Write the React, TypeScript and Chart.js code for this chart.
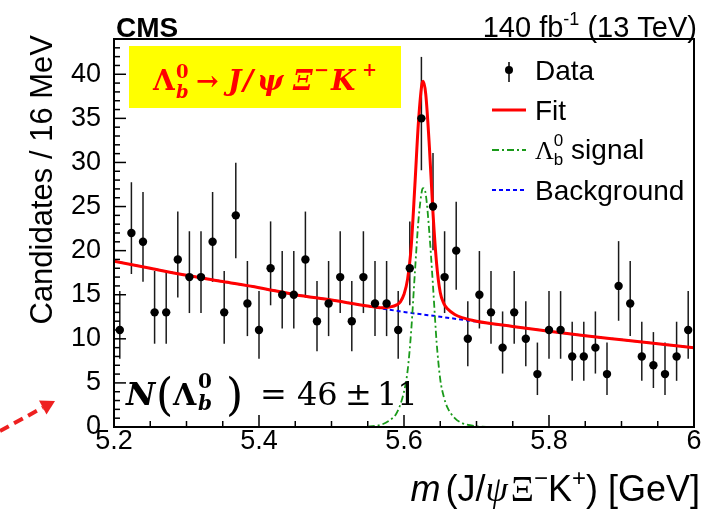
import React, { useEffect, useRef } from 'react';
import { Chart, registerables } from 'chart.js';

Chart.register(...registerables);

// ---- data ----
const binCenters = [
  5.208, 5.224, 5.24, 5.256, 5.272, 5.288, 5.304, 5.32, 5.336, 5.352,
  5.368, 5.384, 5.4, 5.416, 5.432, 5.448, 5.464, 5.48, 5.496, 5.512,
  5.528, 5.544, 5.56, 5.576, 5.592, 5.608, 5.624, 5.64, 5.656, 5.672,
  5.688, 5.704, 5.72, 5.736, 5.752, 5.768, 5.784, 5.8, 5.816, 5.832,
  5.848, 5.864, 5.88, 5.896, 5.912, 5.928, 5.944, 5.96, 5.976, 5.992,
];
const candidates = [
  11, 22, 21, 13, 13, 19, 17, 17, 21, 13,
  24, 14, 11, 18, 15, 15, 19, 12, 14, 17,
  12, 17, 14, 14, 11, 18, 35, 25, 17, 20,
  10, 15, 13, 9, 13, 10, 6, 11, 11, 8,
  8, 9, 6, 16, 14, 8, 7, 6, 8, 11,
];

const fitMass = [
  5.2, 5.25, 5.3, 5.35, 5.4, 5.45, 5.5, 5.55, 5.57, 5.58, 5.59, 5.595, 5.6, 5.605, 5.61,
  5.615, 5.62, 5.625, 5.6265, 5.63, 5.635, 5.64, 5.645, 5.65, 5.655, 5.66, 5.67, 5.68,
  5.7, 5.75, 5.8, 5.85, 5.9, 5.95, 6.0,
];
const fitValues = [
  18.8, 18.0, 17.2, 16.5, 15.8, 15.0, 14.4, 13.72, 13.52, 13.6, 13.85, 14.2, 15.05, 16.8, 20.55,
  27.4, 34.65, 39.0, 39.2, 37.75, 31.8, 24.25, 18.5, 15.25, 14.0, 13.4, 12.75, 12.4,
  12.0, 11.4, 10.85, 10.35, 9.9, 9.45, 9.0,
];

const signalMass = [
  5.55, 5.57, 5.58, 5.59, 5.6, 5.605, 5.61, 5.615, 5.62, 5.625, 5.6265, 5.63, 5.635,
  5.64, 5.645, 5.65, 5.655, 5.66, 5.67, 5.68, 5.7, 5.72,
];
const signalValues = [
  0.02, 0.3, 0.75, 1.6, 4.0, 6.4, 11.0, 17.5, 23.5, 26.9, 27.1, 26.4, 22.0,
  16.0, 9.6, 5.4, 3.4, 2.2, 1.0, 0.45, 0.08, 0,
];

const backgroundMass = [
  5.2, 5.25, 5.3, 5.35, 5.4, 5.45, 5.5, 5.55, 5.6, 5.65, 5.7, 5.75, 5.8, 5.85, 5.9, 5.95, 6.0,
];
const backgroundValues = [
  18.8, 18.0, 17.2, 16.5, 15.8, 15.0, 14.4, 13.7, 13.05, 12.5, 11.95, 11.4, 10.85, 10.35, 9.9, 9.45, 9.0,
];

const xTickValues = [5.2, 5.4, 5.6, 5.8, 6.0];
const xTickLabels = ['5.2', '5.4', '5.6', '5.8', '6'];
const yTickValues = [0, 5, 10, 15, 20, 25, 30, 35, 40];
const yTickLabels = ['0', '5', '10', '15', '20', '25', '30', '35', '40'];

const X_MIN = 5.2;
const X_MAX = 6.0;
const Y_MIN = 0;
const Y_MAX = 44;
const X_MINOR_STEP = 0.05;
const Y_MINOR_STEP = 1;

const SANS = '"Liberation Sans", Arial, Helvetica, sans-serif';
const SERIF = '"DejaVu Serif", serif';
const TIMES = '"Liberation Serif", "Times New Roman", serif';

// Garwood (Poisson) 68% interval, Wilson-Hilferty form
function poissonLow(n: number) {
  if (n <= 0) return 0;
  return n * Math.pow(1 - 1 / (9 * n) - 1 / (3 * Math.sqrt(n)), 3);
}
function poissonHigh(n: number) {
  const m = n + 1;
  return m * Math.pow(1 - 1 / (9 * m) + 1 / (3 * Math.sqrt(m)), 3);
}

type Seg = {
  t?: string; f?: string; dy?: number;
  sup?: string; supF?: string; supDy?: number;
  sub?: string; subF?: string; subDy?: number;
  pad?: number;
};

function segWidth(ctx: CanvasRenderingContext2D, s: Seg) {
  if (s.t !== undefined) {
    ctx.font = s.f as string;
    return ctx.measureText(s.t).width + (s.pad || 0);
  }
  let w = 0;
  if (s.sup) { ctx.font = s.supF as string; w = Math.max(w, ctx.measureText(s.sup).width); }
  if (s.sub) { ctx.font = s.subF as string; w = Math.max(w, ctx.measureText(s.sub).width); }
  return w + (s.pad || 0);
}

function drawSeq(ctx: CanvasRenderingContext2D, x: number, y: number, segs: Seg[], align: 'left' | 'right' = 'left') {
  const ws = segs.map((s) => segWidth(ctx, s));
  const total = ws.reduce((a, b) => a + b, 0);
  let cx = align === 'right' ? x - total : x;
  ctx.textAlign = 'left';
  ctx.textBaseline = 'alphabetic';
  segs.forEach((s, i) => {
    if (s.t !== undefined) {
      ctx.font = s.f as string;
      ctx.fillText(s.t, cx, y + (s.dy || 0));
    } else {
      if (s.sup) { ctx.font = s.supF as string; ctx.fillText(s.sup, cx, y + (s.supDy || 0)); }
      if (s.sub) { ctx.font = s.subF as string; ctx.fillText(s.sub, cx, y + (s.subDy || 0)); }
    }
    cx += ws[i];
  });
  return total;
}

function put(ctx: CanvasRenderingContext2D, text: string, x: number, y: number, font: string) {
  ctx.font = font;
  ctx.textAlign = 'left';
  ctx.textBaseline = 'alphabetic';
  ctx.fillText(text, x, y);
}

function line(ctx: CanvasRenderingContext2D, x1: number, y1: number, x2: number, y2: number) {
  ctx.beginPath();
  ctx.moveTo(x1, y1);
  ctx.lineTo(x2, y2);
  ctx.stroke();
}

const decorPlugin = {
  id: 'cmsDecor',
  beforeDatasetsDraw(chart: any) {
    const ctx: CanvasRenderingContext2D = chart.ctx;
    const xs = chart.scales.x;
    const ys = chart.scales.y;
    ctx.save();
    ctx.strokeStyle = '#1a1a1a';
    ctx.lineWidth = 1.5;
    binCenters.forEach((m, i) => {
      const n = candidates[i];
      const px = xs.getPixelForValue(m);
      line(ctx, px, ys.getPixelForValue(poissonLow(n)), px, ys.getPixelForValue(poissonHigh(n)));
    });
    ctx.restore();
  },
  afterDraw(chart: any) {
    const ctx: CanvasRenderingContext2D = chart.ctx;
    const xs = chart.scales.x;
    const ys = chart.scales.y;
    const { left, right, top, bottom } = chart.chartArea;
    ctx.save();

    // ticks (inside)
    ctx.strokeStyle = '#000';
    ctx.lineWidth = 1.5;
    ctx.setLineDash([]);
    for (let k = 0; Y_MIN + k * Y_MINOR_STEP <= Y_MAX + 1e-9; k++) {
      const v = Y_MIN + k * Y_MINOR_STEP;
      const py = ys.getPixelForValue(v);
      const major = yTickValues.some((t) => Math.abs(t - v) < 1e-9);
      line(ctx, left, py, left + (major ? 12 : 6), py);
    }
    for (let k = 0; X_MIN + k * X_MINOR_STEP <= X_MAX + 1e-9; k++) {
      const v = X_MIN + k * X_MINOR_STEP;
      const px = xs.getPixelForValue(v);
      const major = xTickValues.some((t) => Math.abs(t - v) < 1e-9);
      line(ctx, px, bottom, px, bottom - (major ? 12 : 6));
    }
    // frame
    ctx.lineWidth = 2;
    ctx.strokeRect(left, top, right - left, bottom - top);

    // header
    ctx.fillStyle = '#000';
    put(ctx, 'CMS', 116, 37, `bold 28px ${SANS}`);
    drawSeq(ctx, 697, 37, [
      { t: '140 fb', f: `29px ${SANS}` },
      { sup: '-1', supF: `18px ${SANS}`, supDy: -12 },
      { t: ' (13 TeV)', f: `29px ${SANS}` },
    ], 'right');

    // y title
    ctx.save();
    ctx.translate(52, 35);
    ctx.rotate(-Math.PI / 2);
    ctx.font = `31px ${SANS}`;
    ctx.textAlign = 'right';
    ctx.textBaseline = 'alphabetic';
    ctx.fillText('Candidates / 16 MeV', 0, 0);
    ctx.restore();

    // x title
    drawSeq(ctx, 700, 501, [
      { t: 'm', f: `italic 36px ${SANS}`, pad: 5 },
      { t: '(J/', f: `36px ${SANS}` },
      { t: 'ψ', f: `italic 36px ${TIMES}`, pad: 3 },
      { t: 'Ξ', f: `36px ${TIMES}` },
      { sup: '−', supF: `24px ${SANS}`, supDy: -15 },
      { t: 'K', f: `36px ${SANS}` },
      { sup: '+', supF: `24px ${SANS}`, supDy: -15 },
      { t: ') [GeV]', f: `36px ${SANS}` },
    ], 'right');

    // legend
    ctx.strokeStyle = '#000';
    ctx.lineWidth = 1.5;
    line(ctx, 509, 62, 509, 82);
    ctx.beginPath();
    ctx.arc(509, 70, 4, 0, Math.PI * 2);
    ctx.fill();
    ctx.strokeStyle = '#ff0000';
    ctx.lineWidth = 3;
    line(ctx, 492, 110, 526, 110);
    ctx.strokeStyle = '#1a9a1a';
    ctx.lineWidth = 1.8;
    ctx.setLineDash([7, 3, 2, 3]);
    line(ctx, 492, 150, 526, 150);
    ctx.strokeStyle = '#0000ff';
    ctx.lineWidth = 2;
    ctx.setLineDash([4, 3]);
    line(ctx, 492, 190, 526, 190);
    ctx.setLineDash([]);
    ctx.fillStyle = '#000';
    put(ctx, 'Data', 535, 80, `28px ${SANS}`);
    put(ctx, 'Fit', 535, 120, `28px ${SANS}`);
    drawSeq(ctx, 535, 159, [
      { t: 'Λ', f: `26px ${TIMES}` },
      { sup: '0', supF: `17px ${SANS}`, supDy: -13, sub: 'b', subF: `17px ${SANS}`, subDy: 6 },
      { t: ' signal', f: `28px ${SANS}` },
    ]);
    put(ctx, 'Background', 535, 200, `28px ${SANS}`);

    // yellow box
    ctx.fillStyle = '#ffff00';
    ctx.fillRect(129, 46, 272, 62);
    ctx.fillStyle = '#ff0000';
    put(ctx, 'Λ', 153, 90, `bold 28px ${SERIF}`);
    put(ctx, '0', 176, 78, `bold 18px ${SERIF}`);
    put(ctx, 'b', 176, 98, `bold italic 18px ${SERIF}`);
    put(ctx, '→', 196, 90, `bold 27px ${SERIF}`);
    put(ctx, 'J', 228, 90, `bold italic 28px ${SERIF}`);
    put(ctx, '/', 243, 90, `bold italic 28px ${SERIF}`);
    put(ctx, 'ψ', 257, 90, `bold italic 28px ${SERIF}`);
    put(ctx, 'Ξ', 293, 90, `bold italic 28px ${SERIF}`);
    put(ctx, '−', 314, 76, `bold 18px ${SERIF}`);
    put(ctx, 'K', 331, 90, `bold italic 28px ${SERIF}`);
    put(ctx, '+', 362, 76, `bold 18px ${SERIF}`);

    // yield annotation
    ctx.fillStyle = '#000';
    put(ctx, 'N', 126, 405, `bold italic 32px ${SERIF}`);
    put(ctx, '(', 156, 410, `44px ${SERIF}`);
    put(ctx, 'Λ', 173, 405, `bold 30px ${SERIF}`);
    put(ctx, '0', 198, 388, `bold 20px ${SERIF}`);
    put(ctx, 'b', 198, 410, `bold italic 20px ${SERIF}`);
    put(ctx, ')', 226, 410, `44px ${SERIF}`);
    put(ctx, '=', 260, 405, `32px ${SERIF}`);
    put(ctx, '46', 297, 405, `32px ${SERIF}`);
    put(ctx, '±', 345, 405, `32px ${SERIF}`);
    put(ctx, '11', 377, 405, `32px ${SERIF}`);

    // red dashed arrow
    ctx.strokeStyle = '#ee2020';
    ctx.fillStyle = '#ee2020';
    ctx.lineWidth = 4;
    ctx.setLineDash([10, 6]);
    line(ctx, 0, 431, 43, 407.5);
    ctx.setLineDash([]);
    ctx.beginPath();
    ctx.moveTo(55, 401);
    ctx.lineTo(46.5, 414.5);
    ctx.lineTo(39, 400.5);
    ctx.closePath();
    ctx.fill();

    ctx.restore();
  },
};

export default function App() {
  const ref = useRef<HTMLCanvasElement>(null);
  useEffect(() => {
    const canvas = ref.current;
    if (!canvas) return;
    const chart = new Chart(canvas, {
      type: 'scatter',
      data: {
        datasets: [
          {
            type: 'scatter',
            label: 'Data',
            data: binCenters.map((m, i) => ({ x: m, y: candidates[i] })),
            pointRadius: 4.2,
            pointBackgroundColor: '#000',
            pointBorderColor: '#000',
            pointBorderWidth: 0,
          } as any,
          {
            type: 'line',
            label: 'Fit',
            data: fitMass.map((m, i) => ({ x: m, y: fitValues[i] })),
            borderColor: '#ff0000',
            borderWidth: 3,
            pointRadius: 0,
            fill: false,
            cubicInterpolationMode: 'monotone',
          } as any,
          {
            type: 'line',
            label: 'signal',
            data: signalMass.map((m, i) => ({ x: m, y: signalValues[i] })),
            borderColor: '#1a9a1a',
            borderWidth: 1.8,
            borderDash: [7, 3, 2, 3],
            pointRadius: 0,
            fill: false,
            cubicInterpolationMode: 'monotone',
          } as any,
          {
            type: 'line',
            label: 'Background',
            data: backgroundMass.map((m, i) => ({ x: m, y: backgroundValues[i] })),
            borderColor: '#0000ff',
            borderWidth: 2,
            borderDash: [4, 3],
            pointRadius: 0,
            fill: false,
            cubicInterpolationMode: 'monotone',
          } as any,
        ],
      },
      options: {
        animation: false,
        responsive: false,
        devicePixelRatio: 1,
        events: [],
        layout: { padding: { left: 0, top: 39, right: 12, bottom: 0 } },
        plugins: { legend: { display: false }, tooltip: { enabled: false } },
        scales: {
          x: {
            type: 'linear',
            min: X_MIN,
            max: X_MAX,
            afterBuildTicks: (s: any) => { s.ticks = xTickValues.map((v) => ({ value: v })); },
            afterFit: (s: any) => { s.height = 84; },
            grid: { display: false, drawTicks: false },
            border: { display: false },
            ticks: {
              padding: 1,
              color: '#000',
              maxRotation: 0,
              autoSkip: false,
              font: { family: SANS, size: 27, lineHeight: 1 },
              callback: (_v: any, i: number) => xTickLabels[i],
            },
          },
          y: {
            type: 'linear',
            min: Y_MIN,
            max: Y_MAX,
            afterBuildTicks: (s: any) => { s.ticks = yTickValues.map((v) => ({ value: v })); },
            afterFit: (s: any) => { s.width = 114; },
            grid: { display: false, drawTicks: false },
            border: { display: false },
            ticks: {
              padding: 13,
              color: '#000',
              autoSkip: false,
              font: { family: SANS, size: 27, lineHeight: 1 },
              callback: (_v: any, i: number) => yTickLabels[i],
            },
          },
        },
      } as any,
      plugins: [decorPlugin],
    });
    return () => chart.destroy();
  }, []);
  return (
    <div style={{ position: 'fixed', left: 0, top: 0, width: 706, height: 511, background: '#fff' }}>
      <canvas ref={ref} width={706} height={511} style={{ display: 'block', width: 706, height: 511 }} />
    </div>
  );
}
